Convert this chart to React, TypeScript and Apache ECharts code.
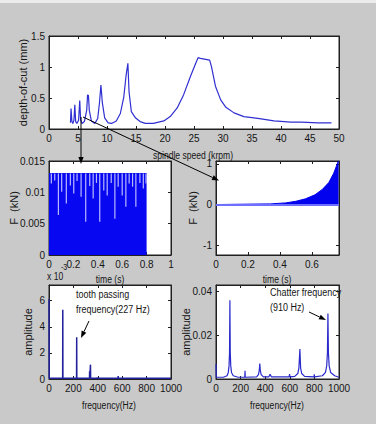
import { useEffect, useRef } from "react";
import * as echarts from "echarts";

// Stability lobe boundary: spindle speed (krpm) vs limiting depth of cut (mm)
const speedKrpm = [
  3.7, 3.8, 3.95, 4.1, 4.3, 4.45, 4.6, 4.8, 5.1, 5.3, 5.45, 5.7, 6.1, 6.5, 6.65, 6.8, 6.95, 7.3, 7.9, 8.4, 8.7,
  8.95, 9.2, 9.6, 10.2, 10.8, 11.6, 12.3, 12.9, 13.3, 13.6, 13.8, 14.2, 14.9, 15.7, 16.6, 18.0, 19.8, 20.9,
  22.1, 23.2, 24.4, 25.3, 25.7, 26.1, 27.7, 28.0, 28.7, 29.6, 30.5, 31.9, 33.6, 36.0, 38.8, 41.7, 43.5, 46.4, 48.7,
];
const depthOfCut = [
  0.1, 0.33, 0.12, 0.09, 0.14, 0.39, 0.12, 0.09, 0.14, 0.46, 0.15, 0.09, 0.12, 0.3, 0.55, 0.54, 0.3, 0.13, 0.09,
  0.17, 0.42, 0.71, 0.42, 0.18, 0.1, 0.09, 0.13, 0.25, 0.52, 0.87, 1.06, 0.6, 0.28, 0.18, 0.12, 0.09, 0.09, 0.13,
  0.2, 0.34, 0.55, 0.85, 1.06, 1.15, 1.14, 1.11, 1.01, 0.69, 0.47, 0.35, 0.26, 0.2, 0.17, 0.13, 0.11, 0.11, 0.1, 0.1,
];

// Stable cut: force envelope and the lower peaks seen as light streaks
const stableTime = [0, 0.8];
const stableForce = [0.013, 0.013];
const stableDipTime = [
  0.019, 0.047, 0.077, 0.104, 0.142, 0.175, 0.203, 0.23, 0.263, 0.301, 0.334, 0.362, 0.389, 0.416, 0.449, 0.477,
  0.51, 0.54, 0.567, 0.6, 0.63, 0.657, 0.685, 0.712, 0.745, 0.773, 0.795,
];
const stableDipForce = [
  0.0114, 0.0119, 0.0064, 0.0101, 0.0082, 0.0111, 0.0098, 0.0118, 0.0093, 0.0053, 0.011, 0.009, 0.0115, 0.0053,
  0.0103, 0.0095, 0.0115, 0.0058, 0.0109, 0.0095, 0.0077, 0.0114, 0.0109, 0.0077, 0.0115, 0.0106, 0.0114,
];

// Unstable cut: growing force envelope
const chatterTime = [0, 0.34, 0.435, 0.5, 0.56, 0.62, 0.665, 0.706, 0.737, 0.767];
const chatterForce = [0, 0.016, 0.04, 0.08, 0.14, 0.24, 0.37, 0.54, 0.77, 1.08];

// Spectrum of the stable cut (amplitude x 1e-3)
const stableFreq = [
  0, 2, 112, 113, 114, 226, 227, 228, 332, 333, 334, 339, 340, 341, 395, 396, 397, 566, 567, 568, 589, 590, 591, 1000,
];
const stableAmp = [
  6.1, 0.05, 0.05, 5.3, 0.05, 0.05, 3.2, 0.05, 0.05, 0.6, 0.05, 0.05, 1.1, 0.05, 0.05, 0.12, 0.05, 0.05, 0.22, 0.05,
  0.05, 0.1, 0.05, 0.05,
];

// Spectrum of the unstable cut
const chatterFreq = [
  0, 2, 60, 90, 100, 106, 110, 113, 116, 120, 126, 140, 180, 234, 236, 238, 330, 345, 352, 356, 360, 367, 385, 430,
  440, 450, 595, 598, 601, 640, 665, 674, 682, 688, 697, 720, 797, 799, 801, 865, 890, 900, 906, 910, 914, 920, 932,
  965, 1000,
];
const chatterAmp = [
  0.0068, 0.0008, 0.0008, 0.0015, 0.003, 0.006, 0.012, 0.036, 0.012, 0.006, 0.003, 0.0015, 0.0008, 0.0008, 0.0038,
  0.0008, 0.001, 0.002, 0.004, 0.0071, 0.004, 0.002, 0.001, 0.001, 0.0022, 0.001, 0.001, 0.0022, 0.001, 0.0012,
  0.0025, 0.005, 0.0137, 0.005, 0.0025, 0.0012, 0.001, 0.0022, 0.001, 0.0015, 0.003, 0.006, 0.012, 0.03, 0.012,
  0.006, 0.003, 0.0015, 0.0008,
];

const SANS = '"Liberation Sans", Arial, sans-serif';
const INK = "#151515";
const FRAME = "#202020";
const SQUEEZE = 0.78;

const zip = (xs: number[], ys: number[]) => xs.map((x, i) => [x, ys[i]]);

type Ticks = { interval?: number; values?: number[] };

function axis(
  gridIndex: number,
  position: string,
  min: number,
  max: number,
  ticks: Ticks,
  labels: boolean,
  name?: { text: string; gap: number }
) {
  return {
    type: "value",
    gridIndex,
    position,
    min,
    max,
    interval: ticks.interval,
    name: name ? name.text : undefined,
    nameLocation: "middle",
    nameGap: name ? name.gap : 0,
    nameRotate: 90,
    nameMoveOverlap: false,
    nameTextStyle: { color: INK, fontSize: 11, fontFamily: SANS },
    axisLine: { show: true, onZero: false, lineStyle: { color: FRAME, width: 1 } },
    axisTick: {
      show: true,
      inside: true,
      length: 3,
      lineStyle: { color: FRAME },
      customValues: ticks.values,
    },
    axisLabel: {
      show: labels,
      color: INK,
      fontSize: 10,
      fontFamily: SANS,
      margin: 4,
      customValues: ticks.values,
      formatter: (v: number) => String(+v.toPrecision(6)),
    },
    splitLine: { show: false },
  };
}

// Horizontal captions are set in a condensed form of the sans face
function caption(text: string, x: number, y: number, size: number, align = "center") {
  return {
    type: "text",
    z: 100,
    x,
    y,
    scaleX: SQUEEZE,
    style: {
      text,
      fill: INK,
      font: `${size}px ${SANS}`,
      align,
      verticalAlign: "middle",
      lineHeight: 15,
    },
  };
}

function arrow(x1: number, y1: number, x2: number, y2: number, head = 7, half = 2.6) {
  const len = Math.hypot(x2 - x1, y2 - y1);
  const ux = (x2 - x1) / len;
  const uy = (y2 - y1) / len;
  const bx = x2 - ux * head;
  const by = y2 - uy * head;
  return [
    {
      type: "line",
      z: 100,
      shape: { x1, y1, x2: bx, y2: by },
      style: { stroke: "#000", lineWidth: 1 },
    },
    {
      type: "polygon",
      z: 100,
      shape: {
        points: [
          [x2, y2],
          [bx - uy * half, by + ux * half],
          [bx + uy * half, by - ux * half],
        ],
      },
      style: { fill: "#000" },
    },
  ];
}

export default function App() {
  const ref = useRef<HTMLDivElement>(null);

  useEffect(() => {
    if (!ref.current) return;
    const chart = echarts.init(ref.current, undefined, { renderer: "svg" });

    const gridBox = { show: true, backgroundColor: "#ffffff", borderColor: FRAME, borderWidth: 1, containLabel: false };

    chart.setOption({
      animation: false,
      backgroundColor: "#c9c9c9",
      grid: [
        { ...gridBox, left: 49, top: 36, width: 290, height: 93 },
        { ...gridBox, left: 49, top: 161, width: 122, height: 94 },
        { ...gridBox, left: 216, top: 161, width: 123, height: 94 },
        { ...gridBox, left: 49, top: 285, width: 122, height: 94 },
        { ...gridBox, left: 216, top: 285, width: 123, height: 94 },
      ],
      xAxis: [
        axis(0, "bottom", 0, 50, { interval: 5 }, true),
        axis(0, "top", 0, 50, { interval: 5 }, false),
        axis(1, "bottom", 0, 1, { interval: 0.2 }, true),
        axis(1, "top", 0, 1, { interval: 0.2 }, false),
        axis(2, "bottom", 0, 0.77, { values: [0, 0.2, 0.4, 0.6] }, true),
        axis(2, "top", 0, 0.77, { values: [0, 0.2, 0.4, 0.6] }, false),
        axis(3, "bottom", 0, 1000, { interval: 200 }, true),
        axis(3, "top", 0, 1000, { interval: 200 }, false),
        axis(4, "bottom", 0, 1000, { interval: 200 }, true),
        axis(4, "top", 0, 1000, { interval: 200 }, false),
      ],
      yAxis: [
        axis(0, "left", 0, 1.5, { interval: 0.5 }, true, { text: "depth-of-cut (mm)", gap: 21 }),
        axis(0, "right", 0, 1.5, { interval: 0.5 }, false),
        axis(1, "left", 0, 0.015, { interval: 0.005 }, true, { text: "F  (kN)", gap: 30 }),
        axis(1, "right", 0, 0.015, { interval: 0.005 }, false),
        axis(2, "left", -1.24, 1.07, { values: [-1, 0, 1] }, true, { text: "F  (kN)", gap: 18 }),
        axis(2, "right", -1.24, 1.07, { values: [-1, 0, 1] }, false),
        axis(3, "left", 0, 7.2, { values: [0, 2, 4, 6] }, true, { text: "amplitude", gap: 16 }),
        axis(3, "right", 0, 7.2, { values: [0, 2, 4, 6] }, false),
        axis(4, "left", 0, 0.043, { values: [0, 0.02, 0.04] }, true, { text: "amplitude", gap: 25 }),
        axis(4, "right", 0, 0.043, { values: [0, 0.02, 0.04] }, false),
      ],
      series: [
        {
          type: "line",
          xAxisIndex: 0,
          yAxisIndex: 0,
          data: zip(speedKrpm, depthOfCut),
          showSymbol: false,
          lineStyle: { color: "#2f2fd2", width: 1.2 },
        },
        {
          type: "line",
          xAxisIndex: 2,
          yAxisIndex: 2,
          z: 2,
          data: zip(stableTime, stableForce),
          showSymbol: false,
          lineStyle: { color: "#0707f2", width: 1 },
          areaStyle: { color: "#0707f2", opacity: 1 },
        },
        {
          type: "custom",
          xAxisIndex: 2,
          yAxisIndex: 2,
          z: 10,
          data: zip(stableDipTime, stableDipForce),
          encode: { x: 0, y: 1 },
          renderItem: (_params: any, api: any) => {
            const t = api.value(0);
            const p0 = api.coord([t, api.value(1)]);
            const p1 = api.coord([t, stableForce[0]]);
            return {
              type: "line",
              shape: { x1: p0[0], y1: p0[1], x2: p1[0], y2: p1[1] },
              style: { stroke: "#b9b9ff", lineWidth: 1.2, fill: null },
            };
          },
        },
        {
          type: "line",
          xAxisIndex: 4,
          yAxisIndex: 4,
          data: zip(chatterTime, chatterForce),
          showSymbol: false,
          lineStyle: { color: "#0202ee", width: 1 },
          areaStyle: { color: "#0202ee", opacity: 1 },
          markLine: {
            silent: true,
            symbol: "none",
            label: { show: false },
            lineStyle: { color: "#6e6eff", width: 2, type: "solid" },
            data: [{ yAxis: 0 }],
          },
        },
        {
          type: "line",
          xAxisIndex: 6,
          yAxisIndex: 6,
          data: zip(stableFreq, stableAmp),
          showSymbol: false,
          lineStyle: { color: "#22229e", width: 1.5 },
        },
        {
          type: "line",
          xAxisIndex: 8,
          yAxisIndex: 8,
          data: zip(chatterFreq, chatterAmp),
          showSymbol: false,
          lineStyle: { color: "#2a2acc", width: 1.2 },
        },
      ],
      graphic: [
        { type: "rect", z: -1, shape: { x: 0, y: 0, width: 376, height: 3 }, style: { fill: "#ececec" } },
        caption("spindle speed (krpm)", 193, 155, 11),
        caption("time (s)", 110, 279, 11),
        caption("time (s)", 277, 279, 11),
        caption("frequency(Hz)", 109, 405, 11),
        caption("frequency(Hz)", 277, 405, 11),
        caption("x 10", 47, 276, 11, "left"),
        caption("-3", 61, 267, 9, "left"),
        caption("tooth passing\nfrequency(227 Hz)", 76, 302, 11.5, "left"),
        caption("Chatter frequency\n(910 Hz)", 270, 300, 11.5, "left"),
        ...arrow(81, 117, 81, 164),
        ...arrow(83, 117, 219, 180.5),
        ...arrow(89, 321, 81, 338),
        ...arrow(309, 312, 326, 320),
      ],
    });

    return () => chart.dispose();
  }, []);

  return <div ref={ref} style={{ position: "fixed", left: 0, top: 0, width: 376, height: 424 }} />;
}
